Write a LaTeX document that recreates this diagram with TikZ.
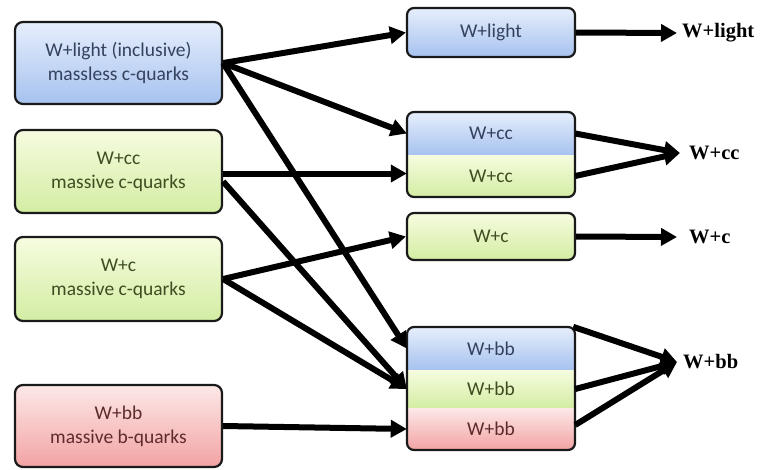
\documentclass[tikz,border=0pt]{standalone}
\usepackage{fontspec}
\setmainfont{Carlito}
\newfontfamily\outfont{Liberation Serif}
\usetikzlibrary{arrows.meta,calc}
\definecolor{bluetop}{HTML}{E6EEFC}
\definecolor{bluebot}{HTML}{A6C2EF}
\definecolor{greentop}{HTML}{F6FCDF}
\definecolor{greenbot}{HTML}{D3EDA3}
\definecolor{redtop}{HTML}{FDE8E8}
\definecolor{redbot}{HTML}{F2A3A3}
\definecolor{bluetxt}{HTML}{34425E}
\definecolor{greentxt}{HTML}{3E4E22}
\definecolor{redtxt}{HTML}{5E2B2B}
\definecolor{edge}{HTML}{1A1A1A}
\tikzset{
  srcbox/.style={draw=edge, line width=2.2pt, rounded corners=8pt, minimum width=207pt,
    align=center, font=\fontsize{19.5}{24}\selectfont, inner sep=0pt},
  bluebox/.style={top color=bluetop, bottom color=bluebot, text=bluetxt},
  greenbox/.style={top color=greentop, bottom color=greenbot, text=greentxt},
  redbox/.style={top color=redtop, bottom color=redbot, text=redtxt},
  seg/.style={minimum width=168pt, inner sep=0pt, font=\fontsize{19.5}{24}\selectfont},
  tgtbox/.style={draw=edge, line width=2.2pt, rounded corners=7pt},
  flow/.style={line width=6pt, draw=black, -{Triangle[length=16pt,width=17pt]}},
  outlab/.style={anchor=west, inner sep=0pt, font=\outfont\bfseries\fontsize{20.5}{22}\selectfont}
}
\begin{document}
\begin{tikzpicture}[x=1pt,y=-1pt]
\useasboundingbox (0,0) rectangle (763,469);
\fill[white] (0,0) rectangle (763,469);

% source boxes
\node[srcbox, bluebox, minimum height=82pt] (b1) at (118.5,63) {W+light (inclusive)\\massless c-quarks};
\node[srcbox, greenbox, minimum height=83pt] (b2) at (118.5,171.5) {W+cc\\massive c-quarks};
\node[srcbox, greenbox, minimum height=84pt] (b3) at (118.5,279) {W+c\\massive c-quarks};
\node[srcbox, redbox, minimum height=82pt] (b4) at (118.5,426) {W+bb\\massive b-quarks};

% W+light
\node[seg, tgtbox, bluebox, minimum height=49pt] (tl) at (491,32.5) {W+light};
% W+cc stack
\begin{scope}
\clip[rounded corners=7pt] (407,112) rectangle (575,197);
\node[seg, bluebox, minimum height=43pt] (cc1) at (491,133.5) {W+cc};
\node[seg, greenbox, minimum height=42pt] (cc2) at (491,176) {W+cc};
\end{scope}
\draw[tgtbox] (407,112) rectangle (575,197);
% W+c
\node[seg, tgtbox, greenbox, minimum height=47pt] (tc) at (491,236.5) {W+c};
% W+bb stack
\begin{scope}
\clip[rounded corners=7pt] (407,327) rectangle (575,450);
\node[seg, bluebox, minimum height=43pt] (bb1) at (491,348.5) {W+bb};
\node[seg, greenbox, minimum height=38pt] (bb2) at (491,389) {W+bb};
\node[seg, redbox, minimum height=42pt] (bb3) at (491,429) {W+bb};
\end{scope}
\draw[tgtbox] (407,327) rectangle (575,450);

% output labels
\node[outlab] (ol) at (682,33) {W+light};
\node[outlab] (occ) at (689,153) {W+cc};
\node[outlab] (oc) at (689,237) {W+c};
\node[outlab] (obb) at (683,362) {W+bb};
\coordinate (tipl) at (677,33);
\coordinate (tipcc) at (680,153);
\coordinate (tipc) at (677,237);
\coordinate (tipbb) at (677,362);

% left to right connectors
\draw[flow] (b1.east) -- (tl.west);
\draw[flow] (b1.east) -- (cc1.west);
\draw[flow] (b1.east) -- (bb1.west);
\draw[flow] ([yshift=-2pt]b2.east) -- ([yshift=2.5pt]cc2.west);
\draw[flow] ([yshift=-10pt]b2.east) -- (bb2.west);
\draw[flow] (b3.east) -- (tc.west);
\draw[flow] (b3.east) -- (bb2.west);
\draw[flow] (b4.east) -- (bb3.west);

% right connectors
\draw[flow] (tl.east) -- (tipl);
\draw[flow] (cc1.east) -- (tipcc);
\draw[flow] (cc2.east) -- (tipcc);
\draw[flow] (tc.east) -- (tipc);
\draw[flow] ([xshift=-2pt]bb1.north east) -- (tipbb);
\draw[flow] (bb2.east) -- (tipbb);
\draw[flow] ([yshift=4pt]bb3.east) -- (tipbb);
\end{tikzpicture}
\end{document}
